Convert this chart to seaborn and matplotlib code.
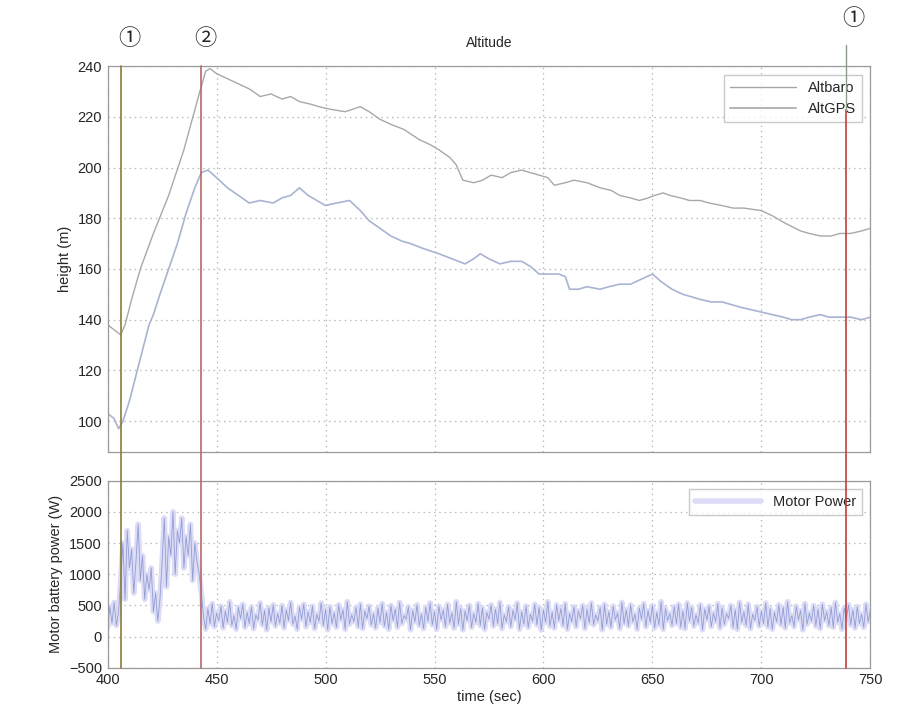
import numpy as np
import pandas as pd
import matplotlib
matplotlib.use("Agg")
import matplotlib.pyplot as plt
import matplotlib.transforms as mtransforms
from matplotlib.lines import Line2D
import seaborn as sns

# ---------------- data ----------------
t_baro = [400, 403, 406, 408, 411, 415, 421, 428, 435, 442, 445, 447, 450, 455, 460, 465,
          470, 475, 480, 484, 488, 493, 497, 502, 509, 516, 520, 525, 530, 536, 543, 548,
          552, 557, 560, 563, 568, 572, 576, 581, 585, 590, 594, 598, 602, 605, 610, 614,
          620, 626, 631, 635, 640, 644, 648, 651, 655, 658, 663, 667, 672, 676, 682, 687,
          692, 700, 705, 711, 718, 722, 727, 732, 736, 741, 746, 750]
alt_baro = [138, 136, 134, 138, 148, 160, 174, 189, 207, 229, 238, 239, 237, 235, 233, 231,
            228, 229, 227, 228, 226, 225, 224, 223, 222, 224, 222, 219, 217, 215, 211, 209,
            207, 204, 201, 195, 194, 195, 197, 196, 198, 199, 198, 197, 196, 193, 194, 195,
            194, 192, 191, 189, 188, 187, 188, 189, 190, 189, 188, 187, 187, 186, 185, 184,
            184, 183, 181, 178, 175, 174, 173, 173, 174, 174, 175, 176]

t_gps = [400, 403, 405, 407, 410, 413, 416, 419, 421, 424, 428, 432, 436, 440, 443, 446,
         450, 455, 460, 465, 470, 476, 480, 484, 488, 492, 496, 500, 505, 511, 516, 520,
         525, 530, 535, 539, 545, 552, 558, 564, 568, 571, 575, 580, 585, 590, 594, 598,
         603, 607, 610, 612, 616, 620, 626, 630, 635, 640, 645, 650, 654, 659, 664, 668,
         672, 677, 682, 686, 690, 695, 700, 705, 710, 714, 718, 722, 727, 731, 736, 741,
         746, 750]
alt_gps = [103, 101, 97, 100, 108, 118, 128, 138, 142, 150, 160, 170, 182, 192, 198, 199,
           196, 192, 189, 186, 187, 186, 188, 189, 192, 189, 187, 185, 186, 187, 183, 179,
           176, 173, 171, 170, 168, 166, 164, 162, 164, 166, 164, 162, 163, 163, 161, 158,
           158, 158, 157, 152, 152, 153, 152, 153, 154, 154, 156, 158, 155, 152, 150, 149,
           148, 147, 147, 146, 145, 144, 143, 142, 141, 140, 140, 141, 142, 141, 141, 141,
           140, 141]

power_start = [150, 480, 220, 550, 180, 400,
               900, 1500, 600, 1700, 1100, 1400, 700, 1200, 1800, 900, 1300, 600, 1000, 750, 1100,
               400, 700, 250, 600,
               1200, 1900, 800, 1600, 1300, 2000, 1000, 1700, 1500, 1900, 1100, 1600, 1300, 1800,
               900, 1500, 1200, 1000, 700]
power_cruise = [
    320, 120, 450, 210, 530, 160, 380, 260, 490, 140, 410, 230, 560, 180, 340, 120, 470, 290, 520, 150,
    390, 210, 480, 130, 350, 270, 540, 190, 420, 110, 460, 240, 510, 170, 370, 220, 500, 140, 430, 260,
    550, 200, 330, 120, 470, 280, 520, 160, 400, 230, 490, 130, 360, 250, 540, 180, 440, 110, 480, 210,
    380, 150, 510, 270, 430, 120, 560, 200, 350, 240, 470, 160, 520, 130, 410, 290, 490, 190, 370, 140,
    460, 230, 530, 170, 390, 120, 500, 260, 440, 150, 550, 210, 340, 280, 480, 110, 420, 240, 510, 180,
    360, 130, 470, 250, 540, 190, 400, 120, 490, 270, 430, 160, 520, 220, 380, 140, 560, 200, 450, 110,
    410, 260, 500, 150, 370, 230, 530, 180, 460, 120, 390, 280, 510, 170, 440, 210, 550, 130, 350, 240,
    480, 160, 420, 270, 540, 120, 400, 200, 490, 150, 360, 250, 520, 190, 470, 110, 430, 230, 560, 170,
    390, 140, 510, 260, 450, 180, 530, 120, 370, 240, 480, 160, 410, 290, 500, 130, 440, 220, 540, 190,
    350, 250, 470, 110, 520, 200, 400, 150, 490, 270, 380, 130, 550, 210, 430, 170, 510, 240, 360, 120,
    460, 280, 530, 160, 420, 230, 500, 140, 390, 190, 560, 120, 450, 260, 370, 180, 480, 210, 520, 150,
    410, 130, 540, 250, 470, 170, 350, 220, 510, 110, 440, 270, 490, 160, 380, 240, 530, 140, 460, 200,
    370, 290, 500, 150, 430, 120, 550, 230, 400, 180, 520, 130, 360, 260, 480, 170, 410, 210, 540, 160,
    450, 120, 390, 240, 510, 190, 470, 140, 560, 220, 340, 160, 490, 270, 420, 110, 530, 200, 380, 250,
    500, 170, 440, 130, 520, 260, 400, 180, 470, 150, 550, 230, 370, 120, 460, 280, 510, 190, 430, 140,
    480, 210, 360, 150, 520, 240, 410]
power = power_start + power_cruise
t_power = list(range(400, 400 + len(power)))

event_times = [406, 443, 739]
event_labels = ["①", "②", "①"]

# ---------------- styling ----------------
sns.set_style("white")
plt.rcParams["font.family"] = ["Liberation Sans", "DejaVu Sans"]
plt.rcParams["xtick.direction"] = "in"
plt.rcParams["ytick.direction"] = "in"

fig = plt.figure(figsize=(9.2, 7.26), dpi=100)
ax1 = fig.add_axes([0.117, 0.378, 0.829, 0.531])
ax2 = fig.add_axes([0.117, 0.080, 0.829, 0.258])

grid_kw = dict(color="#b8b8b8", linestyle=(0, (1.2, 3)), linewidth=0.9)

df_baro = pd.DataFrame({"t": t_baro, "h": alt_baro})
df_gps = pd.DataFrame({"t": t_gps, "h": alt_gps})
sns.lineplot(data=df_baro, x="t", y="h", ax=ax1, color="#a8a8a8", linewidth=1.0, label="Altbaro")
sns.lineplot(data=df_gps, x="t", y="h", ax=ax1, color="#a9b3d2", linewidth=1.2, label="AltGPS")

ax1.set_xlim(400, 750)
ax1.set_ylim(88, 240)
ax1.set_yticks(range(100, 241, 20))
ax1.set_xticks(range(400, 751, 50))
ax1.set_xticklabels([])
ax1.set_xlabel("")
ax1.set_ylabel("height (m)", fontsize=10.5)
ax1.set_title("Altitude", fontsize=10, pad=14)
ax1.grid(True, **grid_kw)
leg1 = ax1.legend(loc="upper right", fontsize=10.5, frameon=True, fancybox=False,
                  edgecolor="#bdbdbd", handlelength=4.5, borderaxespad=0.6)
for h in leg1.get_lines():
    h.set_color("#a6a6a6")

df_p = pd.DataFrame({"t": t_power, "p": power})
sns.lineplot(data=df_p, x="t", y="p", ax=ax2, color="#dcdcf6", linewidth=4.0, label="Motor Power")
sns.lineplot(data=df_p, x="t", y="p", ax=ax2, color="#7a88c8", linewidth=0.6, alpha=0.75, legend=False)
ax2.set_xlim(400, 750)
ax2.set_ylim(-500, 2500)
ax2.set_yticks(range(-500, 2501, 500))
ax2.set_xticks(range(400, 751, 50))
ax2.set_xlabel("time (sec)", fontsize=10.5, labelpad=2)
ax2.set_ylabel("Motor battery power (W)", fontsize=10.5)
ax2.grid(True, **grid_kw)
leg2 = ax2.legend(loc="upper right", fontsize=10.5, frameon=True, fancybox=False,
                  edgecolor="#bdbdbd", handlelength=4.5, borderaxespad=0.6)

for ax in (ax1, ax2):
    for s in ax.spines.values():
        s.set_color("#9a9a9a")
        s.set_linewidth(0.9)
    ax.tick_params(labelsize=10.5, length=4, color="#9a9a9a", pad=4)

# event markers spanning both panels
trans = mtransforms.blended_transform_factory(ax2.transData, fig.transFigure)
ev_colors = ["#8a7a3a", "#b46a6a", "#c43c3c"]
y_bot = 0.080
y_top = [0.909, 0.909, 0.848]
for t, c, yt in zip(event_times, ev_colors, y_top):
    fig.add_artist(Line2D([t, t], [y_bot, yt], transform=trans, color=c, linewidth=1.2, zorder=5))
fig.add_artist(Line2D([739, 739], [0.848, 0.938], transform=trans, color="#8c9a8c",
                      linewidth=1.0, zorder=5))

label_y = [0.947, 0.947, 0.975]
label_dx = [4, 2, 3]
for t, lab, ly, dx in zip(event_times, event_labels, label_y, label_dx):
    fig.text(0, ly, lab, transform=trans, fontsize=16, ha="center", va="center",
             family=["Noto Sans CJK JP", "DejaVu Sans"]).set_x(t + dx)

fig.savefig("out.png", dpi=100, facecolor="white")
